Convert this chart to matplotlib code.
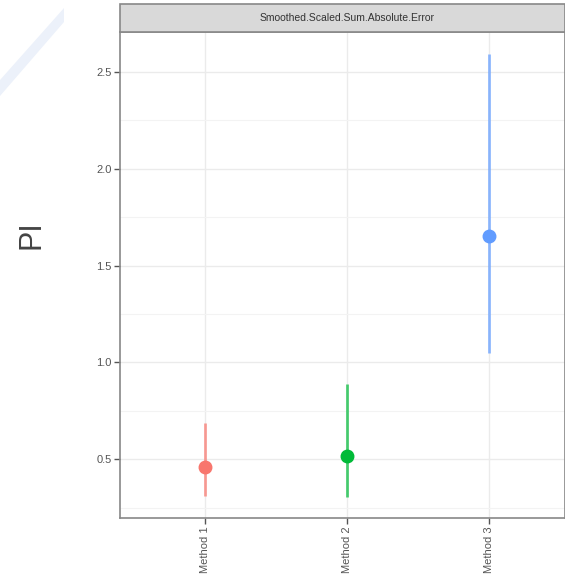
import matplotlib
matplotlib.use("Agg")
import matplotlib.pyplot as plt
from matplotlib.patches import Rectangle, Polygon

plt.rcParams["font.family"] = ["Liberation Sans", "DejaVu Sans"]

# values
methods = ["Method 1", "Method 2", "Method 3"]
pi_mid = [0.46, 0.515, 1.65]
pi_low = [0.31, 0.305, 1.05]
pi_high = [0.686, 0.887, 2.59]
colors = ["#F8766D", "#00BA38", "#619CFF"]
y_ticks = [0.5, 1.0, 1.5, 2.0, 2.5]
strip_title = "Smoothed.Scaled.Sum.Absolute.Error"

W, H = 565, 588
fig = plt.figure(figsize=(W / 100, H / 100), dpi=100)

# panel in pixel units of the reference
left, right, top, bottom = 120, 565, 32, 518
ax = fig.add_axes([left / W, 1 - bottom / H, (right - left) / W, (bottom - top) / H])

xs = list(range(1, len(methods) + 1))
for x, lo, hi, mid, c in zip(xs, pi_low, pi_high, pi_mid, colors):
    ax.plot([x, x], [lo, hi], color=c, lw=2.0, alpha=0.7, solid_capstyle="butt", zorder=3)
    ax.plot(x, mid, "o", color=c, ms=9, zorder=4)

ax.set_xlim(0.4, 0.4 + (right - left) / 142)
ax.set_ylim(0.196, 2.706)
ax.set_xticks(xs)
ax.set_xticklabels(methods, rotation=90, fontsize=8, color="#555555")
ax.set_yticks(y_ticks)
ax.set_yticklabels([f"{v:.1f}" for v in y_ticks], fontsize=8, color="#555555")
ax.set_yticks([0.25, 0.75, 1.25, 1.75, 2.25], minor=True)
ax.tick_params(axis="both", which="major", length=4, width=1, color="#555555", pad=2)
ax.tick_params(axis="y", which="minor", length=0)

ax.grid(True, which="major", color="#EBEBEB", lw=1, zorder=0)
ax.grid(True, which="minor", axis="y", color="#F3F3F3", lw=0.8, zorder=0)
ax.set_axisbelow(True)
for s in ax.spines.values():
    s.set_color("#888888")
    s.set_linewidth(1.2)

# facet strip on top of the panel
strip_top = 4
strip = Rectangle((left / W, 1 - top / H), (right - left) / W, (top - strip_top) / H,
                  transform=fig.transFigure, facecolor="#D9D9D9", edgecolor="#888888", lw=1.2)
fig.patches.append(strip)
fig.text(347 / W, 1 - (top + strip_top) / 2 / H, strip_title,
         ha="center", va="center", fontsize=7.5, color="#333333")

fig.text(31 / W, 1 - 235 / H, "PI", rotation=90, ha="center", va="center",
         fontsize=22, color="#444444")

# faint diagonal artefact at top-left
band = [(0, 80), (64, 8), (64, 22), (0, 96)]
fig.patches.append(Polygon([(px / W, 1 - py / H) for px, py in band], closed=True,
                           transform=fig.transFigure, facecolor="#ECF1FA", edgecolor="none"))

fig.savefig("out.png", dpi=100)
